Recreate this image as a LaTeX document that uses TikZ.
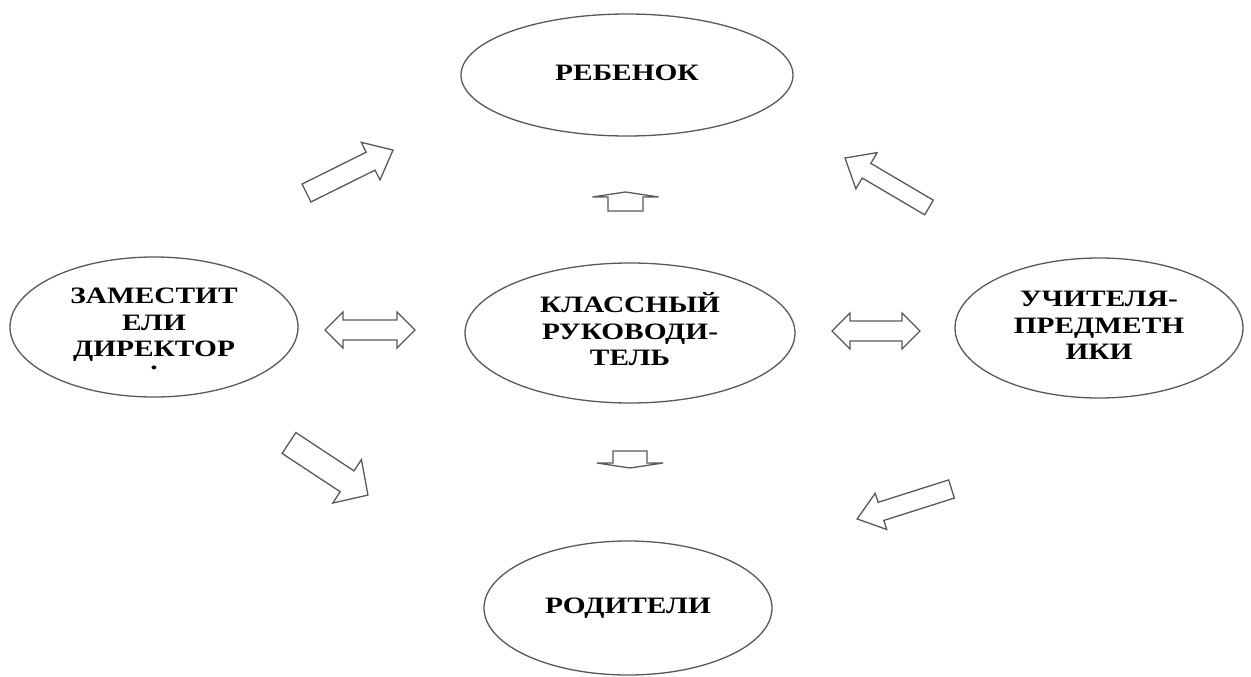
\documentclass[tikz,border=0pt]{standalone}
\usepackage{graphicx}
\usepackage{fontspec}
\setmainfont{Liberation Serif}
\usetikzlibrary{shapes.geometric}
\newcommand\wtxt[1]{\scalebox{1.25}[1]{\begin{tabular}{@{}c@{}}#1\end{tabular}}}
\tikzset{
  txt/.style={inner sep=0pt, font=\fontsize{23.5}{26.5}\selectfont\bfseries},
  ell/.style={draw=black!65, line width=1.3pt, ellipse, inner sep=0pt, txt},
  blk/.style={draw=black!65, line width=1.3pt, fill=white, line join=miter},
}
% tail x, tail y, angle, length, body half width, head half width, head length
\newcommand\blockarrow[7]{\begin{scope}[shift={(#1,#2)},rotate=#3]
\draw[blk] (0,#5) -- ({#4-#7},#5) -- ({#4-#7},#6) -- (#4,0) -- ({#4-#7},-#6) -- ({#4-#7},-#5) -- (0,-#5) -- cycle;
\end{scope}}
% left tip x, y, length, body half width, head half width, head length
\newcommand\dblarrow[6]{%
\draw[blk] (#1,#2) -- ({#1+#6},{#2-#5}) -- ({#1+#6},{#2-#4}) -- ({#1+#3-#6},{#2-#4}) -- ({#1+#3-#6},{#2-#5}) -- ({#1+#3},#2) -- ({#1+#3-#6},{#2+#5}) -- ({#1+#3-#6},{#2+#4}) -- ({#1+#6},{#2+#4}) -- ({#1+#6},{#2+#5}) -- cycle;}
\begin{document}
\begin{tikzpicture}[x=1pt,y=-1pt]
\fill[white] (0,0) rectangle (1251,677);
\useasboundingbox (0,0) rectangle (1251,677);

\node[ell, minimum width=332, minimum height=122] (reb) at (627,75) {\wtxt{РЕБЕНОК}};
\node[ell, minimum width=288, minimum height=140] (zam) at (154,327) {};
\node[txt] (zamt) at (154,331) {\wtxt{ЗАМЕСТИТ\\ЕЛИ\\ДИРЕКТОР\\[-14pt].}};
\node[ell, minimum width=330, minimum height=140] (kl) at (630,333) {\wtxt{КЛАССНЫЙ\\РУКОВОДИ-\\ТЕЛЬ}};
\node[ell, minimum width=288, minimum height=140] (uch) at (1099,328) {\wtxt{УЧИТЕЛЯ-\\ПРЕДМЕТН\\ИКИ}};
\node[ell, minimum width=288, minimum height=134] (rod) at (628,608) {\wtxt{РОДИТЕЛИ}};

\blockarrow{306.5}{193}{26.4}{96.6}{10}{21}{25}
\blockarrow{929}{207.5}{149.5}{97.5}{8.5}{21}{25}
\blockarrow{289}{443}{-33.4}{94.6}{12.5}{26}{25}
\blockarrow{951.5}{489}{197.6}{99}{9.5}{19}{25}
\blockarrow{625.5}{211}{90}{19}{17.5}{33}{5}
\blockarrow{630}{451}{-90}{17}{17}{33}{5}
\dblarrow{325}{330}{90}{10}{18}{18}
\dblarrow{832}{331}{88}{10}{18}{18}
\end{tikzpicture}
\end{document}
